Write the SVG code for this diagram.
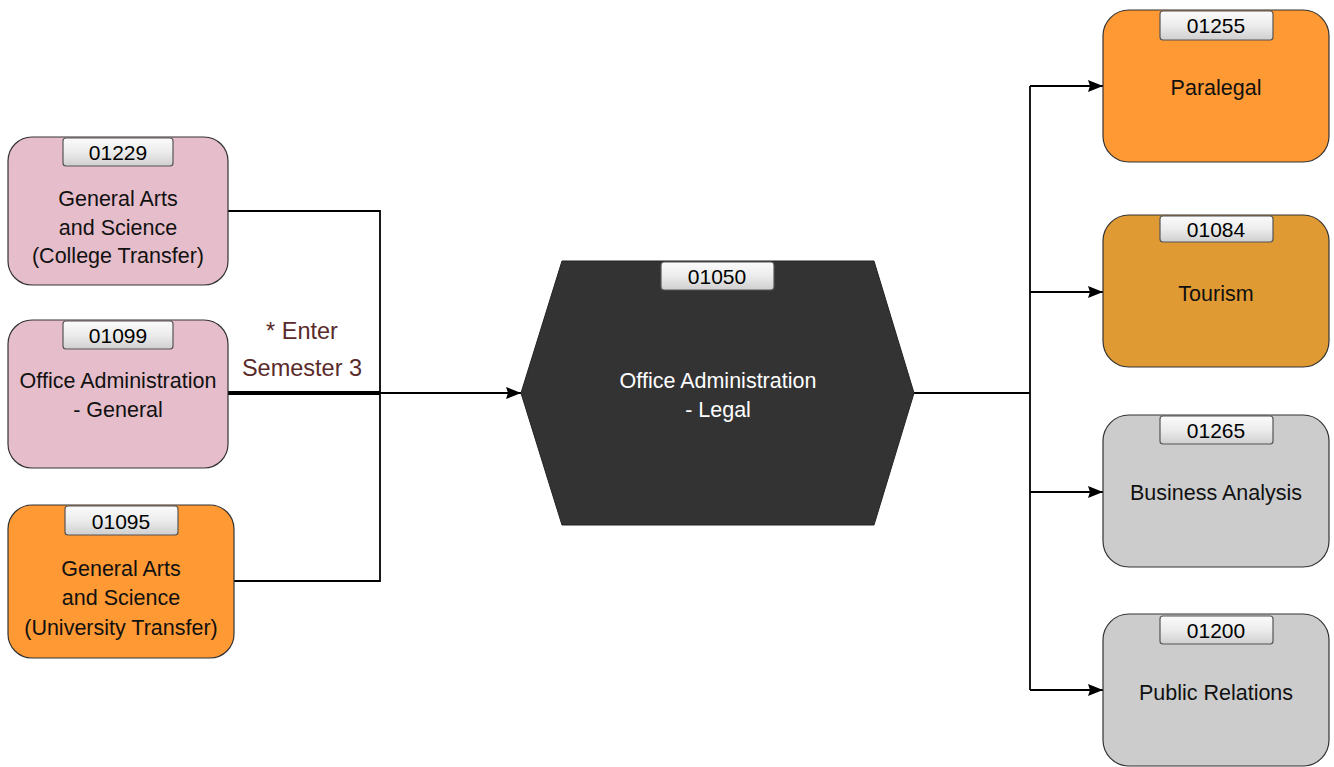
<svg xmlns="http://www.w3.org/2000/svg" width="1334" height="767" viewBox="0 0 1334 767">
<style>
.node{stroke:#333;stroke-width:1.2}
.pink{fill:#E6BECB}
.orange{fill:#FF9933}
.tour{fill:#E09A33}
.gray{fill:#CCCCCC}
.badge{fill:url(#bg);stroke:#555;stroke-width:1.2}
.bt{font-family:"Liberation Sans",Arial,sans-serif;font-size:21px;fill:#000;text-anchor:middle}
.t{font-family:"Liberation Sans",Arial,sans-serif;font-size:21.5px;fill:#111;text-anchor:middle}
.w{fill:#fff}
.lbl{font-family:"Liberation Sans",Arial,sans-serif;font-size:23.5px;fill:#5A2A2A;text-anchor:middle}
.c{fill:none;stroke:#000;stroke-width:1.8}
</style>
<defs>
<linearGradient id="bg" x1="0" y1="0" x2="0" y2="1">
<stop offset="0" stop-color="#fbfbfb"/><stop offset="0.5" stop-color="#ececec"/><stop offset="1" stop-color="#cfcfcf"/>
</linearGradient>
<marker id="arr" markerWidth="15" markerHeight="12" refX="15" refY="6" orient="auto" markerUnits="userSpaceOnUse">
<path d="M0,0 L15,6 L0,12 L2,6 Z" fill="#000"/>
</marker>
</defs>
<rect width="1334" height="767" fill="#fff"/>

<g id="connectors">
<polyline class="c" points="228,211 380,211 380,393"/>
<polyline class="c" points="234,581 380,581 380,393"/>
<line x1="228" y1="393" x2="380" y2="393" stroke="#000" stroke-width="4"/>
<line class="c" x1="380" y1="393" x2="521" y2="393" marker-end="url(#arr)"/>
<line class="c" x1="914" y1="393" x2="1030" y2="393"/>
<line class="c" x1="1030" y1="86" x2="1030" y2="690"/>
<line class="c" x1="1030" y1="86" x2="1103" y2="86" marker-end="url(#arr)"/>
<line class="c" x1="1030" y1="292" x2="1103" y2="292" marker-end="url(#arr)"/>
<line class="c" x1="1030" y1="492" x2="1103" y2="492" marker-end="url(#arr)"/>
<line class="c" x1="1030" y1="690" x2="1103" y2="690" marker-end="url(#arr)"/>
<text class="lbl" x="302" y="339">* Enter</text>
<text class="lbl" x="302" y="376">Semester 3</text>
</g>

<g id="n01229">
<rect class="node pink" x="8" y="137" width="220" height="148" rx="24"/>
<rect class="badge" x="63" y="138" width="110" height="28" rx="3"/>
<text class="bt" x="118" y="160">01229</text>
<text class="t" x="118" y="206">General Arts</text>
<text class="t" x="118" y="235">and Science</text>
<text class="t" x="118" y="263">(College Transfer)</text>
</g>

<g id="n01099">
<rect class="node pink" x="8" y="320" width="220" height="148" rx="24"/>
<rect class="badge" x="63" y="321" width="110" height="28" rx="3"/>
<text class="bt" x="118" y="343">01099</text>
<text class="t" x="118" y="388">Office Administration</text>
<text class="t" x="118" y="417">- General</text>
</g>

<g id="n01095">
<rect class="node orange" x="8" y="505" width="226" height="153" rx="24"/>
<rect class="badge" x="65" y="506" width="113" height="29" rx="3"/>
<text class="bt" x="121" y="529">01095</text>
<text class="t" x="121" y="576">General Arts</text>
<text class="t" x="121" y="605">and Science</text>
<text class="t" x="121" y="635">(University Transfer)</text>
</g>

<g id="n01050">
<polygon points="562,261 874,261 914,393 874,525 562,525 521,393" fill="#333333" stroke="#222" stroke-width="1"/>
<rect class="badge" x="661" y="262" width="113" height="28" rx="3"/>
<text class="bt" x="717" y="284">01050</text>
<text class="t w" x="718" y="388">Office Administration</text>
<text class="t w" x="718" y="417">- Legal</text>
</g>

<g id="n01255">
<rect class="node orange" x="1103" y="10" width="226" height="152" rx="26"/>
<rect class="badge" x="1160" y="11" width="113" height="29" rx="3"/>
<text class="bt" x="1216" y="33">01255</text>
<text class="t" x="1216" y="95">Paralegal</text>
</g>

<g id="n01084">
<rect class="node tour" x="1103" y="215" width="226" height="152" rx="26"/>
<rect class="badge" x="1160" y="216" width="113" height="26" rx="3"/>
<text class="bt" x="1216" y="237">01084</text>
<text class="t" x="1216" y="301">Tourism</text>
</g>

<g id="n01265">
<rect class="node gray" x="1103" y="415" width="226" height="152" rx="26"/>
<rect class="badge" x="1160" y="416" width="113" height="28" rx="3"/>
<text class="bt" x="1216" y="438">01265</text>
<text class="t" x="1216" y="500">Business Analysis</text>
</g>

<g id="n01200">
<rect class="node gray" x="1103" y="614" width="226" height="152" rx="26"/>
<rect class="badge" x="1160" y="616" width="113" height="28" rx="3"/>
<text class="bt" x="1216" y="638">01200</text>
<text class="t" x="1216" y="700">Public Relations</text>
</g>
</svg>
